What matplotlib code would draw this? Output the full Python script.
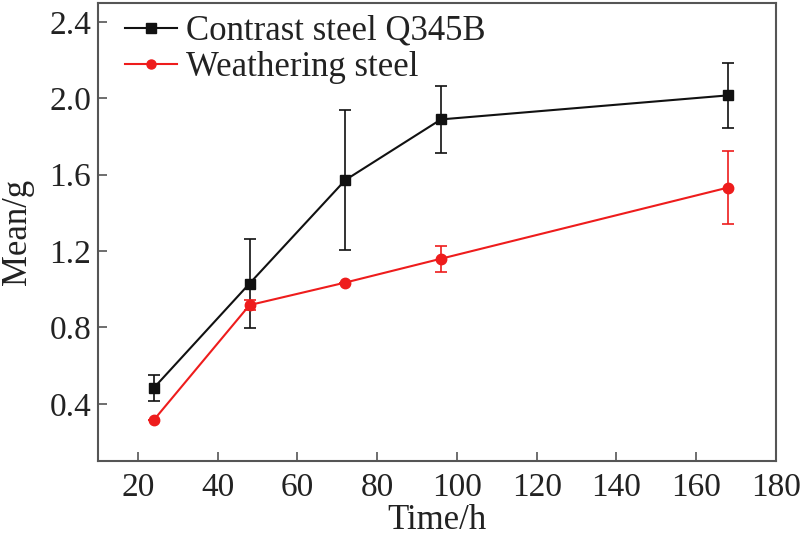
import matplotlib
matplotlib.use("Agg")
import matplotlib.pyplot as plt
from matplotlib.lines import Line2D

time_h = [24, 48, 72, 96, 168]
contrast_mean = [0.483, 1.030, 1.572, 1.890, 2.016]
contrast_err = [0.068, 0.231, 0.366, 0.176, 0.172]
weather_mean = [0.315, 0.917, 1.035, 1.160, 1.533]
weather_err = [0.0, 0.025, 0.0, 0.067, 0.190]

x_ticks = [20, 40, 60, 80, 100, 120, 140, 160, 180]
y_ticks = [0.4, 0.8, 1.2, 1.6, 2.0, 2.4]

plt.rcParams['font.family'] = ['Liberation Serif', 'DejaVu Serif']
text_col = '#222222'
black_c = '#111111'
red_c = '#ee1c1c'

fig = plt.figure(figsize=(8.02, 5.37), dpi=100)
ax = fig.add_axes([98/802, 1-461/537, (776-98)/802, (461-3)/537])

ax.errorbar(time_h, contrast_mean, yerr=contrast_err, color=black_c, marker='s',
            markersize=7.5, linewidth=1.5, elinewidth=1.2, capsize=4.5, capthick=1.2)
ax.errorbar(time_h, weather_mean, yerr=weather_err, color=red_c, marker='o',
            markersize=7.5, linewidth=1.5, elinewidth=1.2, capsize=4.5, capthick=1.2)

ax.set_xlim(10, 180)
ax.set_ylim(0.1, 2.5)
ax.set_xticks(x_ticks)
ax.set_yticks(y_ticks)
ax.set_yticklabels([f"{v:.1f}" for v in y_ticks])
ax.tick_params(direction='in', length=6.5, width=1.2, colors='#555555',
               labelsize=24, labelcolor=text_col)
ax.tick_params(axis='x', pad=8)
ax.tick_params(axis='y', pad=5)
for s in ax.spines.values():
    s.set_color('#555555')
    s.set_linewidth(1.5)

ax.set_xlabel('Time/h', fontsize=25, color=text_col, labelpad=1)
ax.set_ylabel('Mean/g', fontsize=25, color=text_col, labelpad=11)

handles = [Line2D([], [], color=black_c, marker='s', markersize=6.5, linewidth=1.5),
           Line2D([], [], color=red_c, marker='o', markersize=6.5, linewidth=1.5)]
labels = ['Contrast steel Q345B', 'Weathering steel']
leg = ax.legend(handles, labels, loc='upper left', bbox_to_anchor=(0.0295, 0.989),
                frameon=False, fontsize=25,
                handlelength=1.5, handletextpad=0.25, labelspacing=0.08,
                borderaxespad=0.0, borderpad=0.2)
for t in leg.get_texts():
    t.set_color(text_col)

fig.savefig('out.png', dpi=100)
